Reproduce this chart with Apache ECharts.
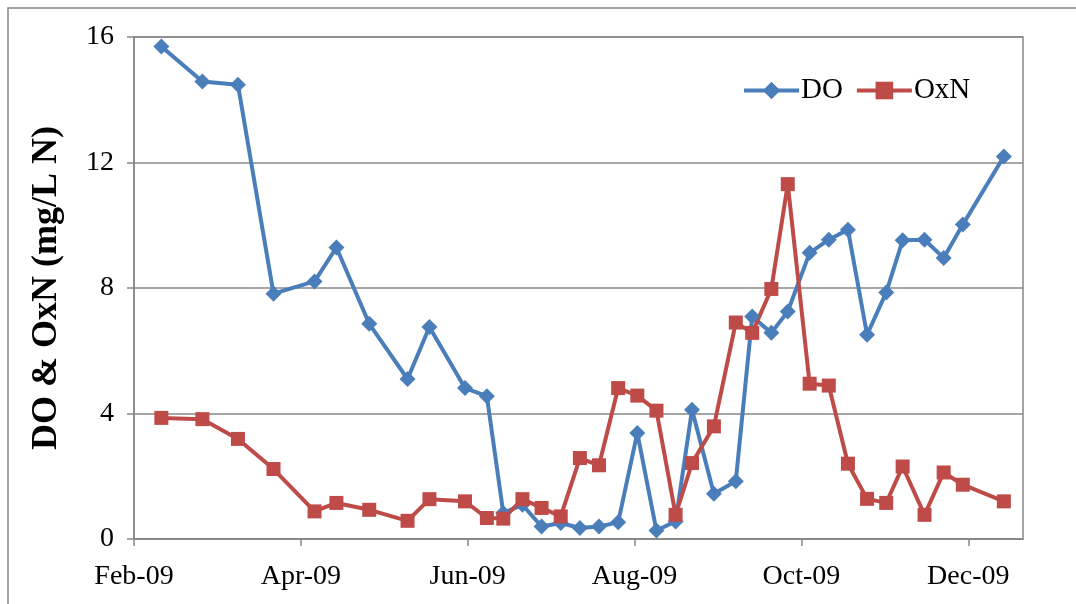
<!DOCTYPE html>
<html>
<head>
<meta charset="utf-8">
<script src="https://cdn.jsdelivr.net/npm/echarts@6/dist/echarts.min.js"></script>
<style>
html,body{margin:0;padding:0;background:#fff;}
#chart{width:1076px;height:604px;}
</style>
</head>
<body>
<div id="chart"></div>
<script>
// Sampling dates
const sampleDates = ['2009-02-11','2009-02-26','2009-03-11','2009-03-24','2009-04-08','2009-04-16','2009-04-28',
  '2009-05-12','2009-05-20','2009-06-02','2009-06-10','2009-06-16','2009-06-23','2009-06-30',
  '2009-07-07','2009-07-14','2009-07-21','2009-07-28','2009-08-04','2009-08-11','2009-08-18','2009-08-24',
  '2009-09-01','2009-09-09','2009-09-15','2009-09-22','2009-09-28','2009-10-06','2009-10-13','2009-10-20',
  '2009-10-27','2009-11-03','2009-11-09','2009-11-17','2009-11-24','2009-12-01','2009-12-16'];
// DO (mg/L)
const doValues = [15.70,14.58,14.48,7.82,8.21,9.29,6.86,5.10,6.76,4.81,4.55,0.83,1.09,0.40,0.51,0.35,0.40,0.53,
  3.38,0.27,0.56,4.12,1.44,1.84,7.09,6.57,7.25,9.12,9.54,9.86,6.51,7.86,9.52,9.54,8.96,10.02,12.19];
// OxN (mg/L N)
const oxnValues = [3.86,3.82,3.19,2.23,0.88,1.15,0.93,0.58,1.27,1.20,0.67,0.65,1.27,0.99,0.72,2.58,2.35,4.81,
  4.57,4.09,0.77,2.42,3.59,6.90,6.57,7.97,11.31,4.95,4.89,2.40,1.28,1.15,2.31,0.77,2.12,1.73,1.20];
// Axis settings (days counted from 1 Feb 2009)
const axisStart = '2009-02-01';
const xTickDays = [0,61,122,183,244,305];
const xMaxDays = 325;
const yTicks = [0,4,8,12,16];

const DAY = 86400000;
const base = Date.parse(axisStart + 'T00:00:00Z');
const toDay = s => Math.round((Date.parse(s + 'T00:00:00Z') - base) / DAY);
const months = ['Jan','Feb','Mar','Apr','May','Jun','Jul','Aug','Sep','Oct','Nov','Dec'];
const fmt = v => { const d = new Date(base + v * DAY); return months[d.getUTCMonth()] + '-' + String(d.getUTCFullYear()).slice(2); };

const doData = sampleDates.map((s,i) => [toDay(s), doValues[i]]);
const oxnData = sampleDates.map((s,i) => [toDay(s), oxnValues[i]]);

const FONT = 'Liberation Serif';
const BLUE = '#4a7ebb', RED = '#be4b48';
const chart = echarts.init(document.getElementById('chart'), null, {renderer:'canvas'});
chart.setOption({
  animation:false,
  backgroundColor:'#fff',
  graphic:[{type:'rect', shape:{x:8,y:8,width:1200,height:800}, style:{fill:'none', stroke:'#888', lineWidth:1.5}, silent:true, z:-1}],
  grid:{left:134, top:37, right:53, bottom:65, show:true, borderColor:'#888', borderWidth:1.5},
  legend:{
    left:742, top:76, padding:0, itemWidth:55, itemHeight:22, itemGap:12,
    data:[
      {name:'DO', lineStyle:{color:BLUE, width:4}},
      {name:'OxN', lineStyle:{color:RED, width:4}}
    ],
    textStyle:{fontFamily:FONT, fontSize:29, color:'#000', padding:[0,0,0,-3]}
  },
  xAxis:{
    type:'value', min:0, max:xMaxDays,
    axisLine:{lineStyle:{color:'#888', width:1.5}},
    axisTick:{show:true, length:7, lineStyle:{color:'#888', width:1.5}, customValues:xTickDays},
    axisLabel:{fontFamily:FONT, fontSize:28, color:'#000', margin:24, customValues:xTickDays, formatter:fmt},
    splitLine:{show:false}
  },
  yAxis:{
    type:'value', min:0, max:16, interval:4,
    name:'DO & OxN (mg/L N)', nameLocation:'middle', nameGap:69,
    nameTextStyle:{fontFamily:FONT, fontSize:36, fontWeight:'bold', color:'#000'},
    axisLine:{show:true, lineStyle:{color:'#888', width:1.5}},
    axisTick:{show:true, length:7, lineStyle:{color:'#888', width:1.5}},
    axisLabel:{fontFamily:FONT, fontSize:28, color:'#000', margin:20, customValues:yTicks},
    splitLine:{show:true, lineStyle:{color:'#888', width:1.5}}
  },
  series:[
    {name:'DO', type:'line', data:doData, symbol:'diamond', symbolSize:16,
     lineStyle:{color:BLUE, width:4}, itemStyle:{color:BLUE}},
    {name:'OxN', type:'line', data:oxnData, symbol:'rect', symbolSize:14,
     lineStyle:{color:RED, width:4}, itemStyle:{color:RED}}
  ]
});
</script>
</body>
</html>
